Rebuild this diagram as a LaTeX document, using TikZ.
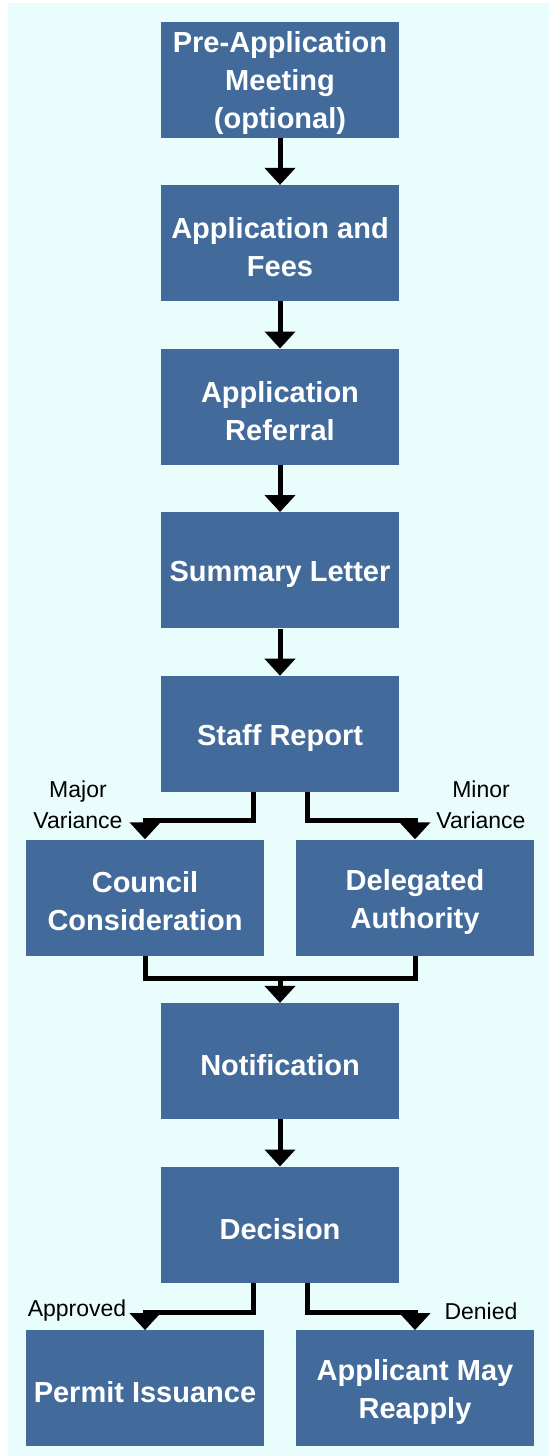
\documentclass[tikz,border=0pt]{standalone}
\usepackage{fontspec}
\setmainfont{Liberation Sans}
\usetikzlibrary{arrows.meta,calc}
\definecolor{bgc}{RGB}{234,253,253}
\definecolor{boxc}{RGB}{66,107,155}
\newcommand\tup{\rule{0pt}{29pt}}
\begin{document}
\begin{tikzpicture}[x=1pt,y=-1pt,
  stepbox/.style={fill=boxc,minimum width=238pt,minimum height=116pt,inner sep=0pt,
    text=white,align=center,font=\fontsize{29}{38}\selectfont\bfseries},
  lbl/.style={align=center,font=\fontsize{23}{31}\selectfont,inner sep=0pt},
  arr/.style={line width=5pt,-{Triangle[width=30pt,length=17pt]},line join=miter},
  ln/.style={line width=5pt,line join=miter}]
\useasboundingbox (0,0) rectangle (549,1456);
\fill[bgc] (8,3) rectangle (549,1456);
\node[stepbox] (pre) at (280,79.5) {\tup Pre-Application\\Meeting\\(optional)};
\node[stepbox] (app) at (280,243.1) {\tup Application and\\Fees};
\node[stepbox] (ref) at (280,406.7) {\tup Application\\Referral};
\node[stepbox] (sum) at (280,570.3) {\tup Summary Letter};
\node[stepbox] (sr) at (280,733.9) {\tup Staff Report};
\node[stepbox] (cc) at (145,897.5) {\tup Council\\Consideration};
\node[stepbox] (da) at (415,897.5) {\tup Delegated\\Authority};
\node[stepbox] (no) at (280,1061.1) {\tup Notification};
\node[stepbox] (de) at (280,1224.7) {\tup Decision};
\node[stepbox] (pi) at (145,1388.3) {\tup Permit Issuance};
\node[stepbox] (am) at (415,1388.3) {\tup Applicant May\\Reapply};
\draw[arr] (pre) -- (app);
\draw[arr] (app) -- (ref);
\draw[arr] (ref) -- (sum);
\draw[arr] (sum) -- (sr);
\coordinate (srl) at (253,820);
\coordinate (srr) at (307,820);
\draw[arr] (sr.south -| srl) -- (srl) -| (cc.north);
\draw[arr] (sr.south -| srr) -- (srr) -| (da.north);
\coordinate (mg) at (280,978);
\draw[ln] (cc.south) |- (mg) -| (da.south);
\draw[arr] (mg) -- (no.north);
\draw[arr] (no) -- (de);
\coordinate (del) at (253,1312);
\coordinate (der) at (307,1312);
\draw[arr] (de.south -| del) -- (del) -| (pi.north);
\draw[arr] (de.south -| der) -- (der) -| (am.north);
\node[lbl] (maj) at (78,805) {Major\\Variance};
\node[lbl] (min) at (481,805) {Minor\\Variance};
\node[lbl] (apr) at (77,1311) {Approved};
\node[lbl] (den) at (481,1311) {Denied};
\end{tikzpicture}
\end{document}
